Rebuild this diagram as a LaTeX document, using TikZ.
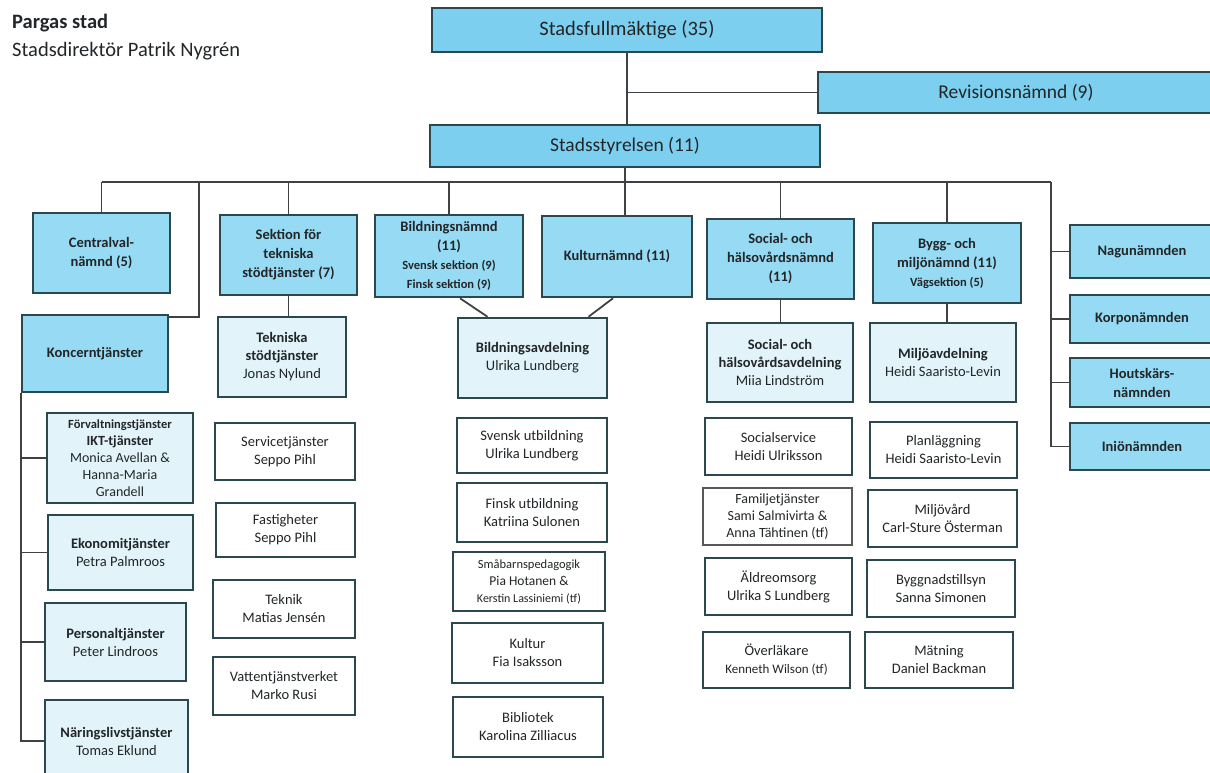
\documentclass[tikz,border=0pt]{standalone}
\usepackage{fontspec}
\setmainfont{Carlito}
\usepackage{xcolor}
\usetikzlibrary{calc}

\definecolor{kantfarg}{RGB}{42,72,78}
\definecolor{linjefarg}{RGB}{62,66,68}
\definecolor{textfarg}{RGB}{34,38,40}
\definecolor{toppbla}{RGB}{125,207,240}
\definecolor{namndbla}{RGB}{150,219,243}
\definecolor{avdbla}{RGB}{226,244,250}
\definecolor{gratonad}{RGB}{88,88,88}

\begin{document}
\begin{tikzpicture}[x=1pt, y=-1pt]
        % ================= stilar =================
        \tikzset{
            % fullmäktige, styrelse, revision
            topbox/.style={draw=kantfarg, line width=2.6pt, fill=toppbla, align=center, inner sep=0pt, text=textfarg, font=\fontsize{19.5}{22}\selectfont},
            % nämnder
            namndbox/.style={draw=kantfarg, line width=2.5pt, fill=namndbla, align=center, inner sep=0pt, text=textfarg, font=\fontsize{14.5}{19}\selectfont\bfseries},
            % avdelningar (ljusblå)
            avdbox/.style={draw=kantfarg, line width=2.5pt, fill=avdbla, align=center, inner sep=0pt, text=textfarg, font=\fontsize{14.5}{18}\selectfont},
            % enheter (vita)
            enhetbox/.style={draw=kantfarg, line width=2.5pt, fill=white, align=center, inner sep=0pt, text=textfarg, font=\fontsize{14.5}{18}\selectfont},
            % linjer
            conn/.style={draw=linjefarg, line width=1.8pt}
        }
        \useasboundingbox (0,0) rectangle (1210,772);

        % ================= rubrik =================
        \node[anchor=west, inner sep=0pt, text=textfarg, font=\fontsize{20.5}{24}\selectfont\bfseries] (stad) at (12,23) {Pargas stad};
        \node[anchor=west, inner sep=0pt, text=textfarg, font=\fontsize{20.5}{24}\selectfont] (direktor) at (12,51) {Stadsdirektör Patrik Nygrén};

        % ================= toppnivå =================
        \node[topbox, minimum width=390, minimum height=44, font=\fontsize{20.5}{24}\selectfont] (sf) at (627,30) {Stadsfullmäktige (35)};
        \node[topbox, minimum width=396, minimum height=41] (rev) at (1016,92.5) {Revisionsnämnd (9)};
        \node[topbox, minimum width=390, minimum height=42] (ss) at (625,146) {Stadsstyrelsen (11)};

        % ================= nämnder =================
        \node[namndbox, minimum width=137, minimum height=80] (central) at (101.5,253) {Centralval-\\nämnd (5)};
        \node[namndbox, minimum width=137, minimum height=80] (sek) at (288.5,255) {Sektion för\\tekniska\\stödtjänster (7)};
        \node[namndbox, minimum width=148, minimum height=82] (bn) at (449,256) {Bildningsnämnd\\(11)\\{\fontsize{12.5}{17}\selectfont Svensk sektion (9)}\\{\fontsize{12.5}{17}\selectfont Finsk sektion (9)}};
        \node[namndbox, minimum width=150, minimum height=81] (kn) at (617,256.5) {Kulturnämnd (11)};
        \node[namndbox, minimum width=147, minimum height=80] (sn) at (780.5,259) {Social- och\\hälsovårdsnämnd\\(11)};
        \node[namndbox, minimum width=148, minimum height=80] (bm) at (947,263) {Bygg- och\\miljönämnd (11)\\{\fontsize{12.5}{16}\selectfont Vägsektion (5)}};
        \node[namndbox, minimum width=146, minimum height=77] (koncern) at (95,353.5) {Koncerntjänster};

        % högra kolumnen
        \node[namndbox, minimum width=144, minimum height=53] (nagu) at (1142,251.5) {Nagunämnden};
        \node[namndbox, minimum width=144, minimum height=48] (korpo) at (1142,319) {Korponämnden};
        \node[namndbox, minimum width=144, minimum height=49] (hout) at (1142,382.5) {Houtskärs-\\nämnden};
        \node[namndbox, minimum width=144, minimum height=47] (inio) at (1142,446.5) {Iniönämnden};

        % ================= avdelningar =================
        \node[avdbox, minimum width=128, minimum height=80] (tek) at (282,357) {\textbf{Tekniska}\\\textbf{stödtjänster}\\Jonas Nylund};
        \node[avdbox, minimum width=149, minimum height=80] (ba) at (532.5,358) {\textbf{Bildningsavdelning}\\Ulrika Lundberg};
        \node[avdbox, minimum width=146, minimum height=79] (sa) at (780,362.5) {\textbf{Social- och}\\\textbf{hälsovårdsavdelning}\\Miia Lindström};
        \node[avdbox, minimum width=146, minimum height=79] (ma) at (943,362.5) {\textbf{Miljöavdelning}\\Heidi Saaristo-Levin};

        % koncerntjänster
        \node[avdbox, minimum width=146, minimum height=90, font=\fontsize{14}{17}\selectfont] (forv) at (120,458) {{\fontsize{12.5}{15}\selectfont\bfseries Förvaltningstjänster}\\\textbf{IKT-tjänster}\\Monica Avellan \&\\Hanna-Maria\\Grandell};
        \node[avdbox, minimum width=145, minimum height=75] (eko) at (120.5,552.5) {\textbf{Ekonomitjänster}\\Petra Palmroos};
        \node[avdbox, minimum width=141, minimum height=78] (pers) at (115.5,642) {\textbf{Personaltjänster}\\Peter Lindroos};
        \node[avdbox, minimum width=143, minimum height=82] (nar) at (116.5,741) {\textbf{Näringslivstjänster}\\Tomas Eklund};

        % ================= enheter =================
        \node[enhetbox, minimum width=140, minimum height=57] (serv) at (285,451.5) {Servicetjänster\\Seppo Pihl};
        \node[enhetbox, minimum width=139, minimum height=54] (fast) at (285.5,530) {Fastigheter\\Seppo Pihl};
        \node[enhetbox, minimum width=142, minimum height=58] (tekn) at (284,609) {Teknik\\Matias Jensén};
        \node[enhetbox, minimum width=142, minimum height=58] (vatt) at (284,686) {Vattentjänstverket\\Marko Rusi};

        \node[enhetbox, minimum width=150, minimum height=55] (svu) at (532,445.5) {Svensk utbildning\\Ulrika Lundberg};
        \node[enhetbox, minimum width=150, minimum height=59] (fiu) at (532,512.5) {Finsk utbildning\\Katriina Sulonen};
        \node[enhetbox, minimum width=152, minimum height=59, font=\fontsize{13.5}{17}\selectfont] (smb) at (529,581.5) {{\fontsize{12.5}{15}\selectfont Småbarnspedagogik}\\Pia Hotanen \&\\{\fontsize{12}{15}\selectfont Kerstin Lassiniemi (tf)}};
        \node[enhetbox, minimum width=151, minimum height=60] (kult) at (527.5,653) {Kultur\\Fia Isaksson};
        \node[enhetbox, minimum width=150, minimum height=60] (bibl) at (528,727) {Bibliotek\\Karolina Zilliacus};

        \node[enhetbox, minimum width=147, minimum height=57] (socs) at (778.5,446.5) {Socialservice\\Heidi Ulriksson};
        \node[enhetbox, draw=gratonad, minimum width=149, minimum height=57, font=\fontsize{14}{17}\selectfont] (famj) at (777.5,516.5) {Familjetjänster\\Sami Salmivirta \&\\Anna Tähtinen (tf)};
        \node[enhetbox, minimum width=147, minimum height=57] (aldr) at (778.5,586.5) {Äldreomsorg\\Ulrika S Lundberg};
        \node[enhetbox, minimum width=147, minimum height=56] (overl) at (776.5,660) {Överläkare\\{\fontsize{13}{17}\selectfont Kenneth Wilson (tf)}};

        \node[enhetbox, minimum width=147, minimum height=56] (plan) at (943.5,450) {Planläggning\\Heidi Saaristo-Levin};
        \node[enhetbox, minimum width=149, minimum height=57] (miljv) at (942.5,518.5) {Miljövård\\Carl-Sture Österman};
        \node[enhetbox, minimum width=148, minimum height=57] (bygn) at (941,588.5) {Byggnadstillsyn\\Sanna Simonen};
        \node[enhetbox, minimum width=148, minimum height=56] (matn) at (939,660) {Mätning\\Daniel Backman};

        % ================= linjer =================
        \coordinate (busR) at (1051,182);
        \coordinate (kcdrop) at (199,182);

        \draw[conn] (sf.south) -- (sf.south |- ss.north);
        \draw[conn] (sf.south |- rev.west) -- (rev.west);
        \draw[conn] (ss.south) -- (ss.south |- kn.north);

        % buss under stadsstyrelsen
        \draw[conn] (central.north |- busR) -- (busR);
        \draw[conn] (central.north) -- (central.north |- busR);
        \draw[conn] (sek.north) -- (sek.north |- busR);
        \draw[conn] (bn.north) -- (bn.north |- busR);
        \draw[conn] (sn.north) -- (sn.north |- busR);
        \draw[conn] (bm.north) -- (bm.north |- busR);
        \draw[conn] (kcdrop) |- ([yshift=-3pt]koncern.north east);

        % högra kolumnen
        \draw[conn] (busR) |- (nagu.west);
        \draw[conn] (busR) |- (korpo.west);
        \draw[conn] (busR) |- (hout.west);
        \draw[conn] (busR) |- (inio.west);

        % nämnd -> avdelning
        \draw[conn] (sek.south) -- (sek.south |- tek.north);
        \draw[conn] ([xshift=11pt]bn.south) -- ([xshift=-45pt]ba.north);
        \draw[conn] ([xshift=-4pt]kn.south) -- ([xshift=56pt]ba.north);
        \draw[conn] (sn.south) -- (sn.south |- sa.north);
        \draw[conn] (bm.south) -- (bm.south |- ma.north);

        % koncerntjänster
        \draw[conn] (koncern.south west) |- (forv.west);
        \draw[conn] (koncern.south west) |- (eko.west);
        \draw[conn] (koncern.south west) |- (pers.west);
        \draw[conn] (koncern.south west) |- (nar.west);

\end{tikzpicture}
\end{document}
